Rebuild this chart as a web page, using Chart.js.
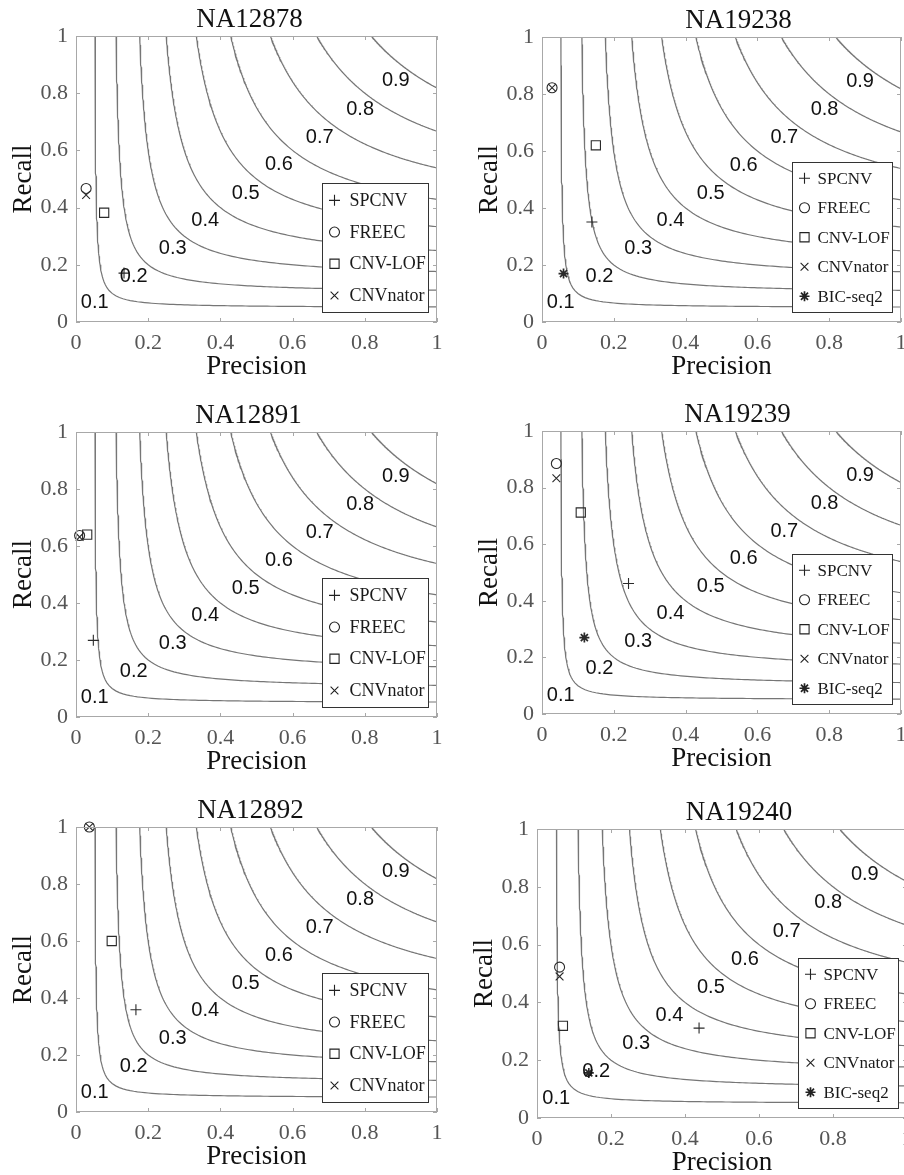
<!DOCTYPE html>
<html>
<head>
<meta charset="utf-8">
<title>CNV callers - precision / recall</title>
<script src="https://cdn.jsdelivr.net/npm/chart.js@4.4.0/dist/chart.umd.min.js"></script>
<style>
  html, body { margin: 0; padding: 0; background: #fff; width: 904px; height: 1175px; overflow: hidden; position: relative; }
  canvas { position: absolute; }
</style>
</head>
<body>
<script>
// ===== Data =====
const methods = ['SPCNV', 'FREEC', 'CNV-LOF', 'CNVnator', 'BIC-seq2'];
const samples = ['NA12878', 'NA19238', 'NA12891', 'NA19239', 'NA12892', 'NA19240'];

// precision / recall per method, same order as methods (null = method not shown)
const precNA12878 = [0.133, 0.028, 0.078, 0.028, null];
const recNA12878  = [0.171, 0.467, 0.382, 0.444, null];

const precNA19238 = [0.139, 0.028, 0.150, 0.028, 0.060];
const recNA19238  = [0.351, 0.822, 0.620, 0.822, 0.170];

const precNA12891 = [0.048, 0.010, 0.031, 0.010, null];
const recNA12891  = [0.269, 0.637, 0.640, 0.632, null];

const precNA19239 = [0.241, 0.040, 0.108, 0.040, 0.118];
const recNA19239  = [0.461, 0.885, 0.712, 0.833, 0.270];

const precNA12892 = [0.166, 0.037, 0.099, 0.037, null];
const recNA12892  = [0.359, 1.000, 0.600, 1.000, null];

const precNA19240 = [0.438, 0.061, 0.070, 0.061, 0.140];
const recNA19240  = [0.311, 0.522, 0.319, 0.490, 0.156];

// F-measure contour levels and where their labels sit
const fLevels    = [0.1, 0.2, 0.3, 0.4, 0.5, 0.6, 0.7, 0.8, 0.9];
const fLabelPrec = [0.052, 0.160, 0.268, 0.358, 0.470, 0.562, 0.675, 0.787, 0.886];
const fLabelRec  = [0.067, 0.160, 0.258, 0.356, 0.450, 0.550, 0.646, 0.744, 0.843];

const axisTicks = [0, 0.2, 0.4, 0.6, 0.8, 1];

const precBySample = [precNA12878, precNA19238, precNA12891, precNA19239, precNA12892, precNA19240];
const recBySample  = [recNA12878, recNA19238, recNA12891, recNA19239, recNA12892, recNA19240];

// ===== Layout / styles =====
// plot area of every panel on the page
const panelBoxes = [
  { left: 76,  top: 36,  right: 437, bottom: 322,  titleShift: -7 },
  { left: 542, top: 37,  right: 901, bottom: 322,  titleShift: 17 },
  { left: 76,  top: 432, right: 437, bottom: 717,  titleShift: -8 },
  { left: 542, top: 431, right: 901, bottom: 714,  titleShift: 16 },
  { left: 76,  top: 827, right: 437, bottom: 1112, titleShift: -6 },
  { left: 537, top: 829, right: 907, bottom: 1118, titleShift: 17 }
];
const Y_AXIS_W = 76, X_AXIS_H = 64, TOP_PAD = 36, RIGHT_PAD = 14;

const markerStyle = {
  'SPCNV':    { style: 'cross',    r: 5.5, w: 1.1 },
  'FREEC':    { style: 'circle',   r: 5,   w: 1.1 },
  'CNV-LOF':  { style: 'rect',     r: 6.5, w: 1.1 },
  'CNVnator': { style: 'crossRot', r: 5.5, w: 1.1 },
  'BIC-seq2': { style: 'star',     r: 5,   w: 1.7 }
};

const SERIF = '"Liberation Serif", "Times New Roman", serif';
const SANS = '"Liberation Sans", Arial, sans-serif';
Chart.defaults.font.family = SERIF;

// iso-F contour: F = 2PR / (P + R), sampled along recall then mirrored
function isoCurve(f) {
  const upper = [];
  const steps = 90;
  for (let k = 0; k <= steps; k++) {
    const r = 1 - (1 - f) * k / steps;
    upper.push({ x: f * r / (2 * r - f), y: r });
  }
  const lower = upper.slice(0, -1).reverse().map(p => ({ x: p.y, y: p.x }));
  return upper.concat(lower);
}

function drawMarker(ctx, name, x, y) {
  const m = markerStyle[name];
  ctx.lineWidth = m.w;
  Chart.helpers.drawPoint(ctx, { pointStyle: m.style, radius: m.r, rotation: 0, borderWidth: m.w }, x, y);
}

function decorPlugin(idx) {
  const box = panelBoxes[idx];
  return {
    id: 'decor' + idx,
    afterDatasetsDraw(chart) {
      const { ctx, chartArea: a, scales: { x, y } } = chart;
      ctx.save();

      // frame with inward ticks
      ctx.strokeStyle = '#a8a8a8';
      ctx.lineWidth = 1;
      ctx.strokeRect(a.left + 0.5, a.top + 0.5, a.right - a.left - 1, a.bottom - a.top - 1);
      ctx.beginPath();
      axisTicks.forEach(v => {
        const px = Math.round(x.getPixelForValue(v)) + 0.5;
        ctx.moveTo(px, a.bottom); ctx.lineTo(px, a.bottom - 4);
        ctx.moveTo(px, a.top); ctx.lineTo(px, a.top + 4);
        const py = Math.round(y.getPixelForValue(v)) + 0.5;
        ctx.moveTo(a.left, py); ctx.lineTo(a.left + 4, py);
        ctx.moveTo(a.right, py); ctx.lineTo(a.right - 4, py);
      });
      ctx.stroke();

      // contour labels
      ctx.font = '20px ' + SANS;
      ctx.fillStyle = '#111';
      ctx.textAlign = 'center';
      ctx.textBaseline = 'middle';
      fLevels.forEach((f, i) => {
        ctx.fillText(String(f), x.getPixelForValue(fLabelPrec[i]), y.getPixelForValue(fLabelRec[i]));
      });

      // legend box, lower right inside the axes
      const prec = precBySample[idx];
      const names = methods.filter((m, i) => prec[i] !== null);
      const n = names.length;
      const fontPx = n > 4 ? 17 : 18;
      const itemH = n > 4 ? 29.5 : 31.7;
      const textX = n > 4 ? 25 : 27;
      ctx.font = fontPx + 'px ' + SERIF;
      const maxW = Math.max(...names.map(s => ctx.measureText(s).width));
      const bw = Math.round(textX + maxW + 3);
      const bh = Math.round(n * itemH + 2);
      const bx = Math.round(a.right - 9 - bw) + 0.5;
      const by = Math.round(a.bottom - 10 - bh) + 0.5;
      ctx.fillStyle = '#fff';
      ctx.fillRect(bx, by, bw, bh);
      ctx.strokeStyle = '#333';
      ctx.lineWidth = 1;
      ctx.strokeRect(bx, by, bw, bh);
      names.forEach((name, i) => {
        const cy = by + 1 + itemH * (i + 0.5);
        ctx.strokeStyle = '#222';
        ctx.fillStyle = 'rgba(0,0,0,0)';
        drawMarker(ctx, name, bx + 12, cy);
        ctx.fillStyle = '#1a1a1a';
        ctx.textAlign = 'left';
        ctx.textBaseline = 'middle';
        ctx.fillText(name, bx + textX, cy + 1);
      });

      // panel title
      ctx.font = '27px ' + SERIF;
      ctx.fillStyle = '#111';
      ctx.textAlign = 'center';
      ctx.textBaseline = 'middle';
      ctx.fillText(samples[idx], (a.left + a.right) / 2 + box.titleShift, a.top - 16);

      ctx.restore();
    }
  };
}

samples.forEach((sample, idx) => {
  const box = panelBoxes[idx];
  const canvas = document.createElement('canvas');
  const w = box.right - box.left + Y_AXIS_W + RIGHT_PAD;
  const h = box.bottom - box.top + TOP_PAD + X_AXIS_H;
  canvas.width = w;
  canvas.height = h;
  canvas.style.width = w + 'px';
  canvas.style.height = h + 'px';
  canvas.style.left = (box.left - Y_AXIS_W) + 'px';
  canvas.style.top = (box.top - TOP_PAD) + 'px';
  document.body.appendChild(canvas);

  const curveSets = fLevels.map(f => ({
    label: 'F=' + f,
    data: isoCurve(f),
    showLine: true,
    borderColor: '#767676',
    borderWidth: 1.2,
    pointRadius: 0,
    tension: 0,
    order: 2
  }));

  const prec = precBySample[idx];
  const rec = recBySample[idx];
  const markerSets = [];
  methods.forEach((m, i) => {
    if (prec[i] === null) return;
    const st = markerStyle[m];
    markerSets.push({
      label: m,
      data: [{ x: prec[i], y: rec[i] }],
      showLine: false,
      pointStyle: st.style,
      pointRadius: st.r,
      pointBorderWidth: st.w,
      borderColor: '#2a2a2a',
      backgroundColor: 'rgba(0,0,0,0)',
      clip: false,
      order: 1
    });
  });

  const tickLabel = v => String(v);

  new Chart(canvas.getContext('2d'), {
    type: 'scatter',
    data: { datasets: curveSets.concat(markerSets) },
    options: {
      responsive: false,
      animation: false,
      events: [],
      layout: { padding: { top: TOP_PAD, right: RIGHT_PAD, left: 0, bottom: 0 } },
      plugins: {
        legend: { display: false },
        title: { display: false },
        tooltip: { enabled: false }
      },
      scales: {
        x: {
          type: 'linear', min: 0, max: 1,
          afterBuildTicks: s => { s.ticks = axisTicks.map(v => ({ value: v })); },
          afterFit: s => { s.height = X_AXIS_H; },
          grid: { display: false, drawTicks: false },
          border: { display: false },
          ticks: { color: '#555', padding: 8, callback: tickLabel, font: { size: 22, family: SERIF } },
          title: { display: true, text: 'Precision', color: '#111', font: { size: 27, family: SERIF }, padding: { top: 0, bottom: 3 } }
        },
        y: {
          type: 'linear', min: 0, max: 1,
          afterBuildTicks: s => { s.ticks = axisTicks.map(v => ({ value: v })); },
          afterFit: s => { s.width = Y_AXIS_W; },
          grid: { display: false, drawTicks: false },
          border: { display: false },
          ticks: { color: '#555', padding: 8, callback: tickLabel, font: { size: 22, family: SERIF } },
          title: { display: true, text: 'Recall', color: '#111', font: { size: 27, family: SERIF }, padding: { top: 8, bottom: 0 } }
        }
      }
    },
    plugins: [decorPlugin(idx)]
  });
});
</script>
</body>
</html>
